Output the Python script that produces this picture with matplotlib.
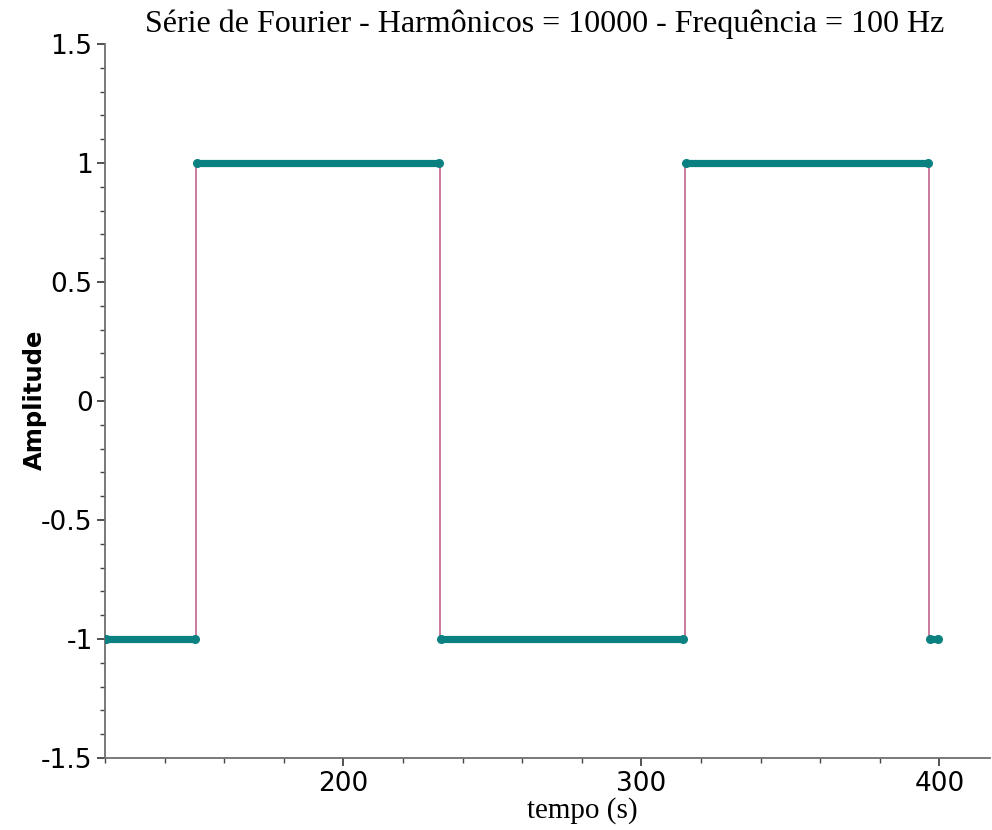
import numpy as np
import matplotlib
matplotlib.use("Agg")
import matplotlib.pyplot as plt
from matplotlib.ticker import MultipleLocator, FixedLocator, FixedFormatter

# --- data
edges = [120, 150.5, 232.5, 314.5, 396.5, 400]   # tempo (s) where the wave switches
levels = [-1, 1, -1, 1, -1]                        # amplitude of each plateau

yticks = [-1.5, -1, -0.5, 0, 0.5, 1, 1.5]
ytick_labels = ["-1.5", "-1", "-0.5", "0", "0.5", "1", "1.5"]
xticks = [200, 300, 400]
xtick_labels = ["200", "300", "400"]

teal = "#0a8080"
pink = "#c97a9c"

fig = plt.figure(figsize=(9.92, 8.30), dpi=100)
ax = fig.add_axes([105/992, 1 - 758/830, (990 - 105)/992, (758 - 44)/830])

# connecting line (steps)
px = np.repeat(edges, 2)[1:-1]
py = np.repeat(levels, 2)
ax.plot(px, py, color=pink, lw=1.4, zorder=2)

# plateaus of sample points
for i, lev in enumerate(levels):
    x0, x1 = edges[i], edges[i + 1]
    ax.plot([x0 + 0.4, x1 - 0.4], [lev, lev], color=teal, lw=5.2,
            solid_capstyle="round", zorder=3)
    ax.plot([x0 + 0.4, x1 - 0.4], [lev, lev], ls="none", marker="o", ms=5.5,
            mfc="none", mec=teal, mew=1.0, zorder=4)

ax.set_xlim(120, 417)
ax.set_ylim(-1.5, 1.5)

ax.xaxis.set_major_locator(FixedLocator(xticks))
ax.xaxis.set_major_formatter(FixedFormatter(xtick_labels))
ax.xaxis.set_minor_locator(MultipleLocator(20))
ax.yaxis.set_major_locator(FixedLocator(yticks))
ax.yaxis.set_major_formatter(FixedFormatter(ytick_labels))
ax.yaxis.set_minor_locator(MultipleLocator(0.1))

for s in ["top", "right"]:
    ax.spines[s].set_visible(False)
for s in ["left", "bottom"]:
    ax.spines[s].set_color("#6e6e6e")
    ax.spines[s].set_linewidth(1.3)

ax.tick_params(which="major", length=6, width=1.2, color="#333333",
               labelsize=19, pad=3)
ax.tick_params(which="minor", length=3.5, width=1.0, color="#444444")

fig.text(545/992, 1 - 24/830, "Série de Fourier - Harmônicos = 10000 - Frequência = 100 Hz",
         family="Liberation Serif", fontsize=23, ha="center", va="center")
fig.text(582/992, 1 - 811/830, "tempo (s)", family="Liberation Serif",
         fontsize=21, ha="center", va="center")
fig.text(35/992, 1 - 400/830, "Amplitude", fontsize=17.5, fontweight="bold",
         rotation=90, ha="center", va="center")

fig.savefig("out.png", dpi=100)
